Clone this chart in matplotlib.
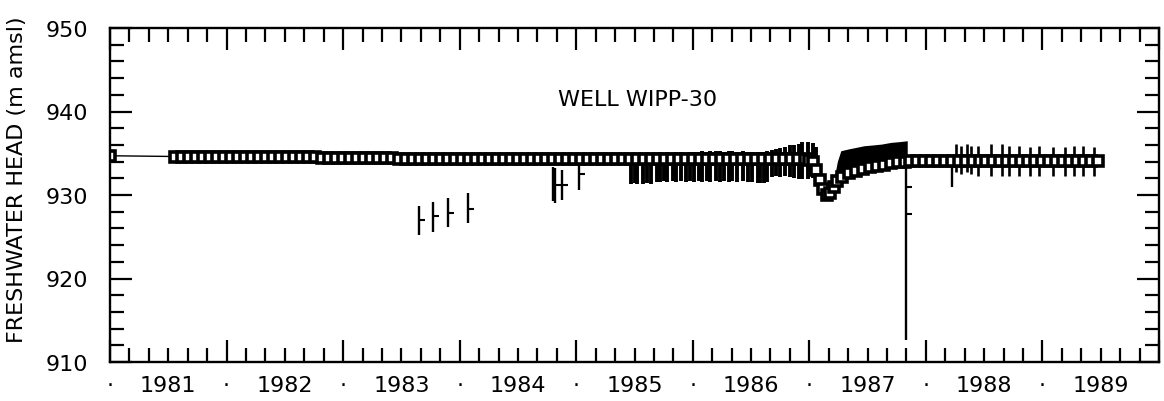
import matplotlib
matplotlib.use("Agg")
import matplotlib.pyplot as plt
import numpy as np

# ---------------- data (decimal year, freshwater head in m amsl) ----------------
main_years = [
    1981.00,
    1981.56, 1981.62, 1981.68, 1981.74, 1981.80, 1981.86, 1981.92, 1981.98, 1982.04, 1982.10,
    1982.16, 1982.22, 1982.28, 1982.34, 1982.40, 1982.46,
    1982.52, 1982.58, 1982.64, 1982.70, 1982.76, 1982.82, 1982.88, 1982.94, 1983.00, 1983.06,
    1983.12, 1983.18, 1983.24, 1983.30, 1983.36, 1983.42, 1983.48,
    1983.54, 1983.60, 1983.66, 1983.72, 1983.78, 1983.84, 1983.90, 1983.96, 1984.02, 1984.08,
    1984.14, 1984.20, 1984.26, 1984.32, 1984.38, 1984.44, 1984.50, 1984.56, 1984.62, 1984.68,
    1984.74, 1984.80, 1984.86, 1984.92, 1984.98,
    1985.04, 1985.10, 1985.16, 1985.22, 1985.28, 1985.34, 1985.40, 1985.46, 1985.52, 1985.58,
    1985.64, 1985.70, 1985.76, 1985.82, 1985.88, 1985.94, 1986.00, 1986.06, 1986.12, 1986.18,
    1986.24, 1986.30, 1986.36, 1986.42, 1986.48, 1986.54, 1986.60, 1986.66, 1986.72, 1986.78,
    1986.84, 1986.90, 1986.96, 1987.00,
    1987.03, 1987.06, 1987.09, 1987.12, 1987.15, 1987.18, 1987.21, 1987.24, 1987.28, 1987.34,
    1987.40, 1987.46, 1987.52, 1987.58, 1987.64, 1987.70, 1987.76, 1987.82,
    1987.86, 1987.92, 1987.98, 1988.04, 1988.10, 1988.16, 1988.22, 1988.28, 1988.34, 1988.40,
    1988.46, 1988.52, 1988.58, 1988.64, 1988.70, 1988.76, 1988.82, 1988.88, 1988.94, 1989.00,
    1989.06, 1989.12, 1989.18, 1989.24, 1989.30, 1989.36, 1989.42, 1989.48,
]
main_heads = [
    934.7,
    934.6, 934.6, 934.6, 934.6, 934.6, 934.6, 934.6, 934.6, 934.6, 934.6,
    934.5, 934.5, 934.5, 934.5, 934.5, 934.5,
    934.5, 934.5, 934.5, 934.5, 934.5, 934.4, 934.4, 934.4, 934.4, 934.4,
    934.4, 934.4, 934.4, 934.4, 934.4, 934.4, 934.3,
    934.3, 934.3, 934.3, 934.3, 934.3, 934.3, 934.3, 934.3, 934.3, 934.3,
    934.3, 934.3, 934.3, 934.3, 934.3, 934.3, 934.3, 934.3, 934.3, 934.3,
    934.3, 934.3, 934.3, 934.3, 934.3,
    934.3, 934.3, 934.3, 934.3, 934.3, 934.3, 934.3, 934.3, 934.3, 934.3,
    934.3, 934.3, 934.3, 934.3, 934.3, 934.3, 934.3, 934.3, 934.3, 934.3,
    934.3, 934.3, 934.3, 934.3, 934.3, 934.3, 934.3, 934.3, 934.3, 934.3,
    934.3, 934.3, 934.3, 934.2,
    934.0, 933.0, 931.8, 930.7, 930.0, 930.2, 931.0, 931.7, 932.2, 932.6,
    932.9, 933.1, 933.3, 933.5, 933.6, 933.8, 933.9, 934.0,
    934.1, 934.1, 934.1, 934.1, 934.1, 934.1, 934.1, 934.1, 934.1, 934.1,
    934.1, 934.1, 934.1, 934.1, 934.1, 934.1, 934.1, 934.1, 934.1, 934.1,
    934.1, 934.1, 934.1, 934.1, 934.1, 934.1, 934.1, 934.1,
]

# dense fluctuation bars 1985-1987
bar_years = [
    1985.47, 1985.50, 1985.52, 1985.57, 1985.61, 1985.64, 1985.69, 1985.72, 1985.75, 1985.78,
    1985.83, 1985.86, 1985.90, 1985.94, 1985.98, 1986.01, 1986.05, 1986.08, 1986.12, 1986.15,
    1986.20, 1986.23, 1986.27, 1986.31, 1986.34, 1986.38, 1986.43, 1986.47, 1986.51, 1986.56,
    1986.58, 1986.61, 1986.64, 1986.68, 1986.71, 1986.75, 1986.79, 1986.83, 1986.87, 1986.91,
    1986.94, 1986.99, 1987.03, 1987.06,
]
bar_lows = [
    931.3, 931.4, 931.3, 931.3, 931.4, 931.3, 931.6, 931.6, 931.7, 931.6,
    931.7, 931.6, 931.7, 931.6, 931.7, 931.6, 931.7, 931.6, 931.7, 931.6,
    931.7, 931.6, 931.7, 931.6, 931.7, 931.6, 931.7, 931.6, 931.5, 931.4,
    931.4, 931.4, 931.5, 932.2, 932.3, 932.2, 932.3, 932.2, 932.0, 931.9,
    931.9, 931.9, 932.0, 932.2,
]
bar_highs = [
    934.9, 934.9, 935.0, 934.9, 935.0, 935.0, 935.0, 935.1, 935.0, 935.1,
    935.0, 935.1, 935.1, 935.0, 935.1, 935.2, 935.2, 935.3, 935.2, 935.3,
    935.3, 935.3, 935.2, 935.3, 935.3, 935.2, 935.3, 935.2, 935.2, 935.1,
    935.2, 935.2, 935.3, 935.4, 935.5, 935.6, 935.8, 936.0, 936.0, 936.1,
    936.3, 936.3, 936.2, 935.8,
]

# recovery envelope after the 1987 drawdown
rec_years = [1987.20, 1987.24, 1987.27, 1987.33, 1987.40, 1987.47, 1987.55, 1987.62, 1987.70, 1987.78, 1987.84]
rec_low = [930.0, 930.6, 931.1, 932.2, 932.5, 932.7, 932.9, 933.1, 933.3, 933.4, 933.5]
rec_high = [931.0, 934.0, 935.3, 935.5, 935.7, 935.9, 936.0, 936.1, 936.3, 936.4, 936.5]

# isolated low readings
spike_years = [1983.65, 1983.77, 1983.90, 1984.07, 1984.80, 1984.82, 1984.88, 1985.02, 1987.83, 1988.22]
spike_low = [925.2, 925.6, 926.2, 926.6, 929.3, 929.0, 929.4, 930.6, 912.6, 931.0]
spike_high = [928.7, 929.2, 929.6, 930.2, 933.4, 933.2, 933.0, 933.7, 934.1, 934.1]
tick_years = [1983.65, 1983.77, 1983.90, 1984.07, 1984.82, 1984.88, 1985.02, 1987.83, 1987.83, 1988.22]
tick_heads = [927.0, 927.5, 927.9, 928.3, 931.2, 931.2, 932.5, 930.9, 927.7, 933.5]

# 1988-1989 fluctuation bars
bar2_years = [1988.26, 1988.30, 1988.35, 1988.39, 1988.45, 1988.56, 1988.65, 1988.71,
              1988.80, 1988.89, 1988.97, 1989.09, 1989.19, 1989.27, 1989.35, 1989.44]
bar2_low = [932.7, 932.5, 932.7, 932.5, 932.3, 932.3, 932.3, 932.3,
            932.3, 932.3, 932.3, 932.3, 932.3, 932.3, 932.3, 932.3]
bar2_high = [936.1, 935.9, 936.1, 935.9, 935.9, 936.1, 936.1, 935.9,
             935.9, 935.7, 935.9, 935.7, 935.7, 935.9, 935.9, 935.7]

year_labels = ["1981", "1982", "1983", "1984", "1985", "1986", "1987", "1988", "1989"]
title_text = "WELL WIPP-30"
y_label = "FRESHWATER HEAD (m amsl)"

# ---------------- figure ----------------
plt.rcParams["font.family"] = ["DejaVu Sans"]
W, H = 1164, 402
fig = plt.figure(figsize=(W / 100, H / 100), dpi=100)
ax = fig.add_axes([110 / W, 1 - 363 / H, (1159 - 110) / W, (363 - 29) / H])

ax.set_xlim(1981.0, 1990.0)
ax.set_ylim(910, 950)

ax.vlines(bar_years, bar_lows, bar_highs, colors="black", linewidth=2.8)
ax.fill_between(rec_years, rec_low, rec_high, color="black", linewidth=0)
ax.vlines(spike_years, spike_low, spike_high, colors="black", linewidth=1.7)
ax.plot(tick_years, tick_heads, linestyle="none", marker=1, markersize=4,
        markeredgewidth=1.5, color="black")
ax.vlines(bar2_years, bar2_low, bar2_high, colors="black", linewidth=1.9)
ax.plot(main_years, main_heads, color="black", linewidth=1.0, marker="s",
        markersize=6.5, markerfacecolor="white", markeredgecolor="black",
        markeredgewidth=2.6)

ax.text(1985.53, 941.5, title_text, ha="center", va="center", fontsize=16)

# ticks
major_x = list(range(1981, 1991))
ax.set_xticks(major_x)
ax.set_xticklabels(["\u00b7" if y < 1990 else "" for y in major_x])
minor_x = [1981 + k / 6 for k in range(0, 55) if k % 6 != 0]
minor_lab = []
for k in range(0, 55):
    if k % 6 == 0:
        continue
    minor_lab.append(year_labels[k // 6] if (k % 6 == 3 and k // 6 < len(year_labels)) else "")
ax.set_xticks(minor_x, minor=True)
ax.set_xticklabels(minor_lab, minor=True)

ax.set_yticks([910, 920, 930, 940, 950])
ax.set_yticks(list(range(910, 951, 2)), minor=True)

ax.tick_params(which="both", direction="in", top=True, right=True, width=1.6,
               labelsize=16, colors="black")
ax.tick_params(which="major", length=16)
ax.tick_params(which="minor", length=10)
ax.tick_params(axis="y", which="both", pad=16)
ax.tick_params(axis="x", which="both", pad=9)

for s in ax.spines.values():
    s.set_linewidth(1.7)

fig.text(17 / W, 1 - 180 / H, y_label, rotation=90, ha="center", va="center", fontsize=16)

fig.savefig("out.png", dpi=100, facecolor="white")
